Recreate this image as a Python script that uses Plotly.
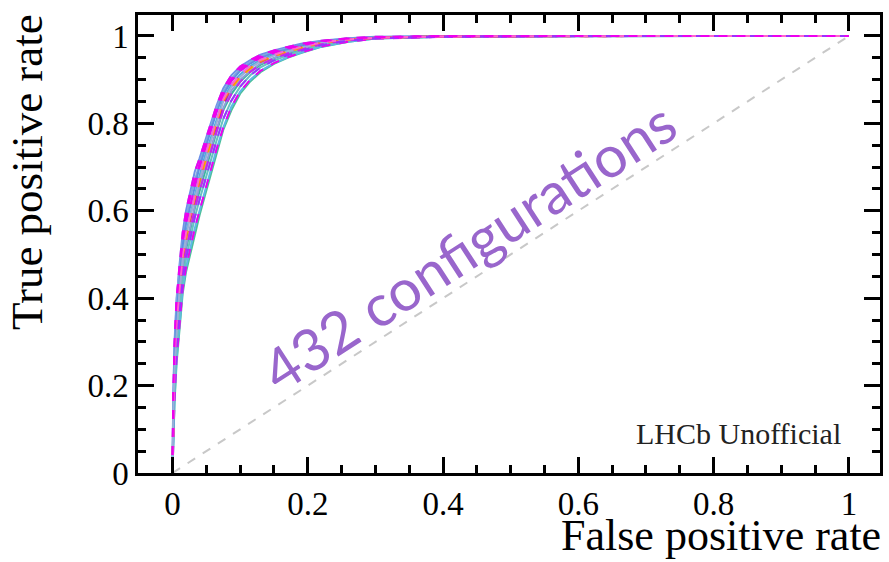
import plotly.graph_objects as go

# Shared false-positive-rate grid
fpr = [0, 0.001, 0.003, 0.006, 0.01, 0.015, 0.02, 0.026, 0.033, 0.04, 0.048, 0.056,
       0.065, 0.075, 0.087, 0.1, 0.115, 0.13, 0.15, 0.17, 0.19, 0.22, 0.26, 0.3,
       0.4, 0.6, 0.8, 1.0]

# Representative ROC curves from the band of configurations
tpr_a = [0, 0.16, 0.29, 0.39, 0.47, 0.55, 0.60, 0.64, 0.69, 0.72, 0.76, 0.80, 0.84, 0.88,
         0.91, 0.93, 0.945, 0.957, 0.967, 0.975, 0.982, 0.989, 0.995, 0.998, 1, 1, 1, 1]
tpr_b = [0, 0.14, 0.27, 0.36, 0.44, 0.52, 0.57, 0.61, 0.66, 0.70, 0.74, 0.78, 0.825, 0.865,
         0.897, 0.92, 0.937, 0.95, 0.961, 0.97, 0.978, 0.987, 0.993, 0.997, 0.999, 1, 1, 1]
tpr_c = [0, 0.13, 0.25, 0.34, 0.42, 0.50, 0.55, 0.59, 0.64, 0.68, 0.725, 0.765, 0.81, 0.855,
         0.888, 0.912, 0.931, 0.945, 0.957, 0.967, 0.975, 0.985, 0.992, 0.996, 0.999, 1, 1, 1]
tpr_d = [0, 0.12, 0.23, 0.32, 0.40, 0.48, 0.53, 0.575, 0.625, 0.665, 0.71, 0.75, 0.80, 0.845,
         0.88, 0.905, 0.925, 0.94, 0.953, 0.963, 0.972, 0.983, 0.991, 0.996, 0.999, 1, 1, 1]
tpr_e = [0, 0.11, 0.21, 0.30, 0.38, 0.46, 0.51, 0.555, 0.605, 0.645, 0.69, 0.73, 0.78, 0.83,
         0.867, 0.895, 0.918, 0.934, 0.949, 0.96, 0.969, 0.981, 0.99, 0.995, 0.999, 1, 1, 1]
tpr_f = [0, 0.10, 0.19, 0.28, 0.36, 0.44, 0.49, 0.535, 0.585, 0.625, 0.67, 0.71, 0.76, 0.81,
         0.852, 0.884, 0.91, 0.928, 0.944, 0.956, 0.966, 0.979, 0.989, 0.995, 0.998, 1, 1, 1]
tpr_g = [0, 0.08, 0.17, 0.26, 0.34, 0.42, 0.47, 0.515, 0.56, 0.60, 0.645, 0.69, 0.74, 0.79,
         0.838, 0.873, 0.90, 0.92, 0.938, 0.951, 0.962, 0.976, 0.987, 0.994, 0.998, 1, 1, 1]
tpr_h = [0, 0.15, 0.26, 0.33, 0.41, 0.47, 0.54, 0.58, 0.62, 0.67, 0.72, 0.76, 0.79, 0.84,
         0.885, 0.91, 0.928, 0.941, 0.955, 0.966, 0.974, 0.984, 0.991, 0.996, 0.999, 1, 1, 1]
tpr_i = [0, 0.09, 0.22, 0.33, 0.39, 0.47, 0.52, 0.56, 0.61, 0.66, 0.70, 0.74, 0.79, 0.835,
         0.875, 0.90, 0.92, 0.937, 0.95, 0.962, 0.971, 0.982, 0.99, 0.995, 0.999, 1, 1, 1]
tpr_j = [0, 0.13, 0.24, 0.31, 0.41, 0.49, 0.54, 0.585, 0.63, 0.67, 0.715, 0.755, 0.805, 0.85,
         0.883, 0.907, 0.927, 0.942, 0.955, 0.965, 0.973, 0.984, 0.991, 0.996, 0.999, 1, 1, 1]
tpr_k = [0, 0.17, 0.30, 0.40, 0.46, 0.53, 0.58, 0.63, 0.67, 0.71, 0.75, 0.79, 0.835, 0.872,
         0.902, 0.925, 0.941, 0.953, 0.964, 0.972, 0.979, 0.988, 0.994, 0.997, 1, 1, 1, 1]
tpr_l = [0, 0.07, 0.16, 0.25, 0.33, 0.41, 0.46, 0.50, 0.55, 0.59, 0.635, 0.68, 0.73, 0.785,
         0.83, 0.868, 0.896, 0.917, 0.936, 0.95, 0.961, 0.975, 0.987, 0.994, 0.998, 1, 1, 1]

solid_curves = [tpr_l, tpr_g, tpr_a, tpr_e, tpr_k, tpr_c, tpr_i, tpr_f, tpr_b, tpr_j]
solid_colors = ["#4DBF9A", "#5DB8E8", "#6C8FE8", "#3CB5A0", "#7FA7E0", "#47AEE0",
                "#8C9FD8", "#66C2C2", "#5E90E0", "#9AB0D8"]
dashed_curves = [tpr_g, tpr_d, tpr_h, tpr_a, tpr_j, tpr_e, tpr_b, tpr_f, tpr_c, tpr_k]
dashed_colors = ["#EE00EE", "#FFA020", "#B000E0", "#EE00EE", "#FF9900", "#CC22EE",
                 "#EE00EE", "#9933FF", "#FF66CC", "#EE00EE"]

diag = [0, 1]

fig = go.Figure()
fig.add_trace(go.Scatter(x=diag, y=diag, mode="lines",
                         line=dict(color="#C8C8C8", width=2, dash="dash"),
                         showlegend=False, hoverinfo="skip"))
for t, c in zip(solid_curves, solid_colors):
    fig.add_trace(go.Scatter(x=fpr, y=t, mode="lines", line=dict(color=c, width=2),
                             showlegend=False))
for t, c in zip(dashed_curves, dashed_colors):
    fig.add_trace(go.Scatter(x=fpr, y=t, mode="lines",
                             line=dict(color=c, width=2, dash="dash"),
                             showlegend=False))

serif = "Liberation Serif"
axis_common = dict(showline=True, linecolor="black", linewidth=2.5, mirror="ticks",
                   ticks="inside", ticklen=16, tickwidth=2.5, tickcolor="black",
                   showgrid=False, zeroline=False,
                   tickfont=dict(family=serif, size=33, color="black"))
fig.update_xaxes(range=[-0.051, 1.046], tickvals=[0, 0.2, 0.4, 0.6, 0.8, 1],
                 ticktext=["0", "0.2", "0.4", "0.6", "0.8", "1"],
                 minor=dict(dtick=0.05, tick0=0, ticks="inside", ticklen=8,
                            tickwidth=2.5, tickcolor="black"),
                 **axis_common)
fig.update_yaxes(range=[0, 1.048], tickvals=[0, 0.2, 0.4, 0.6, 0.8, 1],
                 ticktext=["0", "0.2", "0.4", "0.6", "0.8", "1"],
                 minor=dict(dtick=0.05, tick0=0, ticks="inside", ticklen=8,
                            tickwidth=2.5, tickcolor="black"),
                 **axis_common)

fig.update_layout(
    width=889, height=562,
    margin=dict(l=138, r=6, t=15, b=89),
    paper_bgcolor="white", plot_bgcolor="white",
    annotations=[
        dict(text="False positive rate", xref="paper", yref="paper", x=1.0, y=0,
             xanchor="right", yanchor="top", yshift=-36, xshift=3, showarrow=False,
             font=dict(family=serif, size=44, color="black")),
        dict(text="True positive rate", xref="paper", yref="paper", x=0, y=1.0,
             xanchor="right", yanchor="top", xshift=-84, yshift=3, textangle=-90,
             showarrow=False, font=dict(family=serif, size=45, color="black")),
        dict(text="LHCb Unofficial", xref="x", yref="y", x=0.991, y=0.09,
             xanchor="right", yanchor="middle", showarrow=False,
             font=dict(family=serif, size=30, color="#222222")),
        dict(text="432 configurations", xref="x", yref="y", x=0.437, y=0.52,
             textangle=-33, showarrow=False,
             font=dict(family="Lato", size=58, color="#9966CC")),
    ],
)

fig.write_html("out.html")
